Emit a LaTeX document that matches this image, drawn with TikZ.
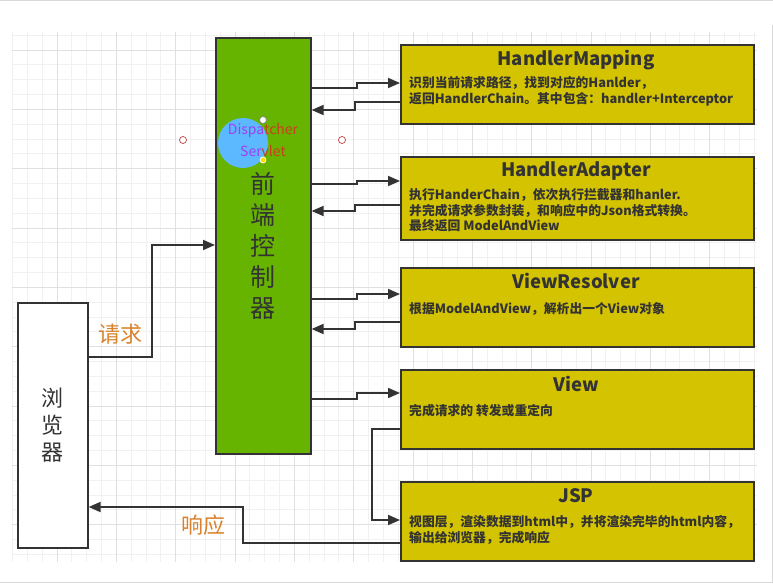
\documentclass[tikz,border=0pt]{standalone}
\usepackage{fontspec}
\setmainfont{Noto Sans CJK SC}
\usetikzlibrary{arrows.meta}
\definecolor{fcgreen}{HTML}{66B300}
\definecolor{boxyellow}{HTML}{D4C300}
\definecolor{ink}{HTML}{333333}
\definecolor{reqorange}{HTML}{D9822B}
\definecolor{gridminor}{HTML}{F1F1F1}
\definecolor{gridmajor}{HTML}{E0E0E0}
\definecolor{hilite}{HTML}{5CB8FF}
\definecolor{dpurple}{HTML}{A040F0}
\definecolor{dred}{HTML}{C8401E}

\begin{document}
\begin{tikzpicture}[x=1pt, y=-1pt,
  every node/.style={inner sep=0pt, text=ink},
  box/.style={draw=ink, line width=1.6pt, anchor=north west},
  ybox/.style={box, fill=boxyellow, minimum width=353pt},
  ttl/.style={anchor=base, font=\fontsize{18.5}{20}\selectfont\bfseries},
  txt/.style={anchor=base west, font=\fontsize{12.8}{15}\selectfont\bfseries},
  arr/.style={draw=ink, line width=1.8pt, -{Triangle[length=12pt,width=10pt]}},
  lbl/.style={text=reqorange, font=\fontsize{22}{24}\selectfont}]
  \useasboundingbox (0,0) rectangle (773,585);
  % background grid
  \foreach \i in {1,...,51}
    \draw[gridminor, line width=0.8pt] (-2.3+\i*14.83,32) -- (-2.3+\i*14.83,562);
  \foreach \j in {3,...,38}
    \draw[gridminor, line width=0.8pt] (12,-9.3+\j*14.83) -- (757,-9.3+\j*14.83);
  \foreach \i in {4,8,...,48}
    \draw[gridmajor, line width=0.8pt] (-2.3+\i*14.83,32) -- (-2.3+\i*14.83,562);
  \foreach \j in {4,8,...,36}
    \draw[gridmajor, line width=0.8pt] (12,-9.3+\j*14.83) -- (757,-9.3+\j*14.83);
  \draw[gray!30] (0,0.5) -- (773,0.5) (0,582.5) -- (773,582.5) (772,25) -- (772,582.5);

  % boxes
  \node [box, fill=fcgreen, minimum width=95pt, minimum height=416pt, align=center,
    font=\fontsize{25}{31}\selectfont] (fc) at (215,37) {前\\端\\控\\制\\器};
  \node [box, fill=white, minimum width=70pt, minimum height=245pt, align=center,
    font=\fontsize{22}{27}\selectfont] (br) at (17,302) {浏\\览\\器};

  \node [ybox, minimum height=79pt] (hm) at (400,44) {};
  \node [ybox, minimum height=83pt] (ha) at (400,156) {};
  \node [ybox, minimum height=79pt] (vr) at (400,267) {};
  \node [ybox, minimum height=79pt] (vw) at (400,369) {};
  \node [ybox, minimum height=79pt] (jsp) at (400,481) {};

  % titles and texts
  \node [ttl] (hmt) at (576,66) {HandlerMapping};
  \node [txt] (hm1) at (409,88) {识别当前请求路径，找到对应的Hanlder，};
  \node [txt] (hm2) at (409,104) {返回HandlerChain。其中包含：handler+Interceptor};
  \node [ttl] (hat) at (576,177) {HandlerAdapter};
  \node [txt] (ha1) at (409,200) {执行HanderChain，依次执行拦截器和hanler.};
  \node [txt] (ha2) at (409,215.5) {并完成请求参数封装，和响应中的Json格式转换。};
  \node [txt] (ha3) at (409,231) {最终返回 ModelAndView};
  \node [ttl] (vrt) at (576,288) {ViewResolver};
  \node [txt] (vr1) at (409,313) {根据ModelAndView，解析出一个View对象};
  \node [ttl] (vwt) at (576,391) {View};
  \node [txt] (vw1) at (409,415) {完成请求的 转发或重定向};
  \node [ttl] (jspt) at (576,502) {JSP};
  \node [txt] (jsp1) at (409,526) {视图层，渲染数据到html中，并将渲染完毕的html内容，};
  \node [txt] (jsp2) at (409,542) {输出给浏览器，完成响应};

  % arrows
  \draw [arr] (br.east |- 0,357) -- ++(63,0) |- (fc.west |- 0,245);
  \draw [arr] (fc.east |- 0,88) -- ++(45,0) |- (hm.west |- 0,83);
  \draw [arr] (hm.west |- 0,102) -- ++(-45,0) |- (fc.east |- 0,110);
  \draw [arr] (fc.east |- 0,184) -- ++(45,0) |- (ha.west |- 0,181);
  \draw [arr] (ha.west |- 0,205) -- ++(-45,0) |- (fc.east |- 0,211);
  \draw [arr] (fc.east |- 0,299) -- ++(45,0) |- (vr.west |- 0,294);
  \draw [arr] (vr.west |- 0,322) -- ++(-45,0) |- (fc.east |- 0,329);
  \draw [arr] (fc.east |- 0,399) -- ++(45,0) |- (vw.west |- 0,393);
  \draw [arr] (vw.west |- 0,429) -- ++(-28,0) |- (jsp.west |- 0,520);
  \draw [arr] (jsp.west |- 0,543) -- ++(-157,0) |- (br.east |- 0,507);
  \node [lbl] (req) at (120,334) {请求};
  \node [lbl] (resp) at (203,525) {响应};

  % editing overlay
  \fill [hilite] (243,143) circle [radius=25];
  \node [font=\fontsize{14}{16}\selectfont] (ds1) at (263,131)
    {\textcolor{dpurple}{Dispa}\textcolor{dred}{tcher}};
  \node [font=\fontsize{14}{16}\selectfont] (ds2) at (263,151)
    {\textcolor{dpurple}{Ser}\textcolor{dred}{vlet}};
  \draw [gray, fill=white, line width=0.7pt] (263,120) circle [radius=3.5];
  \draw [red!50!gray, fill=white, line width=0.7pt] (183,140) circle [radius=3.5];
  \draw [red!50!gray, fill=white, line width=0.7pt] (342,140) circle [radius=3.5];
  \draw [white, fill=yellow!80!orange, line width=0.7pt] (263,160) circle [radius=3];
\end{tikzpicture}
\end{document}
